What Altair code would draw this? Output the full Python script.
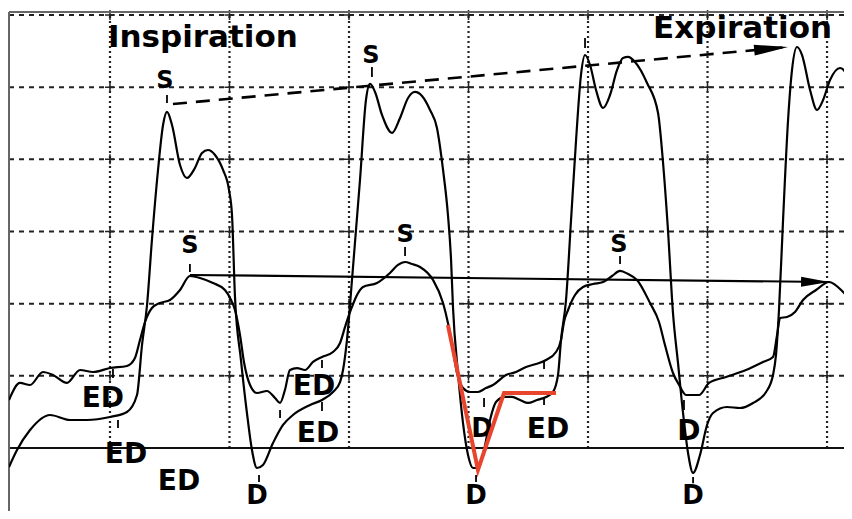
import altair as alt
import pandas as pd

# ---- data (time in grid units, pressure in grid units) ----
# Trace A: large-swing pressure trace
a_t = [0.155, 0.222, 0.331, 0.498, 0.665, 0.808, 1.000, 1.142, 1.226, 1.268, 1.310, 1.351, 1.402, 1.444,
       1.477, 1.519, 1.586, 1.644, 1.711, 1.770, 1.820, 1.879, 1.946, 1.996, 2.021, 2.046, 2.096, 2.146,
       2.188, 2.230, 2.280, 2.364, 2.448, 2.531, 2.674, 2.774, 2.866, 2.925, 2.950, 2.983, 3.025, 3.092,
       3.142, 3.176, 3.218, 3.276, 3.360, 3.427, 3.494, 3.552, 3.611, 3.678, 3.736, 3.787, 3.828, 3.854,
       3.870, 3.912, 3.954, 3.996, 4.038, 4.079, 4.130, 4.180, 4.230, 4.305, 4.364, 4.431, 4.498, 4.573,
       4.649, 4.707, 4.749, 4.774, 4.816, 4.858, 4.900, 4.941, 4.975, 5.017, 5.067, 5.126, 5.184, 5.243,
       5.293, 5.335, 5.393, 5.494, 5.586, 5.628, 5.669, 5.711, 5.753, 5.795, 5.837, 5.879, 5.937, 5.996,
       6.046, 6.163, 6.272, 6.381, 6.490, 6.548, 6.573, 6.598, 6.632, 6.674, 6.707, 6.749, 6.791, 6.858,
       6.916, 6.967, 7.025, 7.109, 7.176, 7.209]
a_p = [-0.263, -0.028, 0.249, 0.457, 0.388, 0.388, 0.430, 0.499, 0.734, 1.427, 1.981, 2.882, 3.852, 4.475,
       4.656, 4.475, 3.921, 3.741, 3.880, 4.088, 4.129, 4.060, 3.852, 3.575, 3.228, 2.092, 1.219, 0.485,
       -0.028, -0.277, -0.236, 0.069, 0.319, 0.457, 0.596, 0.665, 0.776, 0.914, 1.081, 1.496, 2.328, 3.713,
       4.822, 5.044, 4.933, 4.614, 4.365, 4.572, 4.850, 4.933, 4.877, 4.683, 4.434, 3.852, 3.228, 2.605,
       1.954, 1.039, 0.346, -0.097, -0.277, -0.277, -0.028, 0.388, 0.637, 0.707, 0.707, 0.665, 0.624, 0.665,
       0.707, 0.776, 1.012, 1.496, 2.051, 3.159, 4.268, 5.168, 5.445, 5.307, 4.960, 4.711, 4.891, 5.238,
       5.404, 5.418, 5.348, 5.057, 4.642, 3.949, 3.021, 1.871, 1.178, 0.485, -0.069, -0.346, -0.097, 0.319,
       0.485, 0.568, 0.554, 0.624, 0.776, 1.012, 1.289, 1.912, 3.159, 4.545, 5.238, 5.556, 5.445, 4.960,
       4.683, 4.822, 5.099, 5.265, 5.127, 4.960]

# Trace B: smaller-swing pressure trace
b_t = [0.155, 0.247, 0.331, 0.439, 0.523, 0.640, 0.749, 0.858, 1.000, 1.142, 1.209, 1.251, 1.293, 1.351,
       1.418, 1.502, 1.586, 1.669, 1.753, 1.862, 1.962, 2.013, 2.046, 2.088, 2.121, 2.172, 2.230, 2.314,
       2.381, 2.423, 2.464, 2.506, 2.565, 2.632, 2.699, 2.774, 2.866, 2.925, 2.967, 3.000, 3.025, 3.067,
       3.117, 3.234, 3.343, 3.410, 3.469, 3.527, 3.594, 3.703, 3.787, 3.828, 3.870, 3.904, 3.954, 4.013,
       4.079, 4.146, 4.205, 4.314, 4.397, 4.481, 4.565, 4.649, 4.732, 4.774, 4.799, 4.833, 4.891, 4.958,
       5.042, 5.126, 5.201, 5.268, 5.335, 5.410, 5.519, 5.594, 5.644, 5.711, 5.762, 5.820, 5.929, 6.013,
       6.155, 6.322, 6.464, 6.548, 6.582, 6.607, 6.665, 6.732, 6.799, 6.908, 7.017, 7.134, 7.209]
b_p = [0.665, 0.901, 0.873, 1.053, 1.012, 0.901, 1.081, 1.053, 1.108, 1.136, 1.247, 1.496, 1.746, 1.940,
       2.009, 2.051, 2.189, 2.383, 2.356, 2.286, 2.189, 2.051, 1.912, 1.566, 1.192, 0.873, 0.762, 0.790,
       0.693, 0.624, 0.804, 1.081, 1.108, 1.081, 1.192, 1.261, 1.330, 1.455, 1.677, 1.843, 1.954, 2.120,
       2.231, 2.286, 2.425, 2.536, 2.577, 2.549, 2.508, 2.328, 2.009, 1.732, 1.358, 1.039, 0.831, 0.776,
       0.776, 0.831, 0.873, 1.012, 1.053, 1.122, 1.164, 1.219, 1.330, 1.496, 1.746, 1.912, 2.120, 2.231,
       2.272, 2.300, 2.383, 2.453, 2.411, 2.328, 2.009, 1.746, 1.427, 1.039, 0.873, 0.734, 0.734, 0.901,
       0.984, 1.081, 1.192, 1.261, 1.566, 1.801, 1.815, 1.884, 2.051, 2.189, 2.300, 2.162, 2.023]

# highlighted red V (descent, nadir, rapid filling, plateau)
red_t = [3.828, 4.079, 4.297, 4.732]
red_p = [1.704, -0.305, 0.762, 0.762]

# trend arrows
dash_t = [1.527, 6.674]
dash_p = [4.766, 5.556]
solid_t = [1.669, 7.017]
solid_p = [2.397, 2.300]

# grid
grid_x = [1, 2, 3, 4, 5, 6, 7]
grid_y = [1, 2, 3, 4, 5, 6]

X_MIN, X_MAX = 0.155, 7.142
Y_MIN, Y_MAX = -0.873, 6.041

# labels
lab_text = ["S", "S", "S", "S", "S",
            "ED", "ED", "ED", "ED", "ED", "ED",
            "D", "D", "D", "D", "D"]
lab_t = [1.460, 1.669, 3.184, 3.469, 5.259,
         0.941, 1.134, 1.577, 2.707, 2.741, 4.665,
         2.230, 4.063, 4.113, 5.879, 5.845]
lab_p = [4.988, 2.702, 5.335, 2.854, 2.716,
         0.568, -0.208, -0.582, 0.734, 0.083, 0.139,
         -0.780, -0.780, 0.152, -0.780, 0.111]
lab_fs = [24, 24, 24, 24, 24,
          28, 28, 28, 28, 28, 28,
          26, 26, 26, 26, 28]

title_text = ["Inspiration", "Expiration"]
title_t = [0.983, 5.544]
title_p = [5.556, 5.681]

# small tick marks under/over labels
tick_t = [1.477, 1.669, 3.192, 3.469, 5.268, 4.975,
          1.025, 1.067, 2.774, 2.774, 4.632, 4.632,
          2.247, 2.423, 4.063, 4.130, 5.879, 5.803]
tick_p1 = [4.891, 2.549, 5.279, 2.785, 2.660, 5.681,
           1.095, 0.388, 1.219, 0.637, 1.192, 0.707,
           -0.374, 0.527, -0.374, 0.693, -0.402, 0.665]
tick_p2 = [4.780, 2.439, 5.141, 2.660, 2.549, 5.542,
           0.970, 0.277, 1.108, 0.513, 1.095, 0.596,
           -0.470, 0.416, -0.470, 0.568, -0.490, 0.527]

# ---- chart ----
xs = alt.Scale(domain=[X_MIN, X_MAX], nice=False, zero=False)
ys = alt.Scale(domain=[Y_MIN, Y_MAX], nice=False, zero=False)


def X(f="t"):
    return alt.X(f"{f}:Q", scale=xs, axis=None)


def Y(f="p"):
    return alt.Y(f"{f}:Q", scale=ys, axis=None)


GRID = "#222222"

vgrid = alt.Chart(pd.DataFrame({"t": grid_x, "p": [0] * 7, "p2": [Y_MAX] * 7})).mark_rule(
    color=GRID, strokeWidth=2.2, strokeDash=[2, 3]
).encode(x=X(), y=Y(), y2="p2:Q")

hgrid = alt.Chart(pd.DataFrame({"p": grid_y, "t": [X_MIN] * 6, "t2": [X_MAX] * 6})).mark_rule(
    color=GRID, strokeWidth=2, strokeDash=[5, 5]
).encode(y=Y(), x=X(), x2="t2:Q")

cross_rows = [{"t": gx, "p": gy} for gx in grid_x for gy in grid_y]
crosses = alt.Chart(pd.DataFrame(cross_rows)).mark_point(
    shape="M-1,0L1,0M0,-1L0,1", size=100, filled=False, color=GRID, strokeWidth=1.5, opacity=1
).encode(x=X(), y=Y())

baseline = alt.Chart(pd.DataFrame({"p": [0], "t": [X_MIN], "t2": [X_MAX]})).mark_rule(
    color="#111111", strokeWidth=1.8
).encode(y=Y(), x=X(), x2="t2:Q")

frame_left = alt.Chart(pd.DataFrame({"t": [X_MIN], "p": [Y_MIN], "p2": [Y_MAX]})).mark_rule(
    color="#666666", strokeWidth=2
).encode(x=X(), y=Y(), y2="p2:Q")
frame_top = alt.Chart(pd.DataFrame({"p": [Y_MAX], "t": [X_MIN], "t2": [X_MAX]})).mark_rule(
    color="#666666", strokeWidth=2
).encode(y=Y(), x=X(), x2="t2:Q")

trace_a = alt.Chart(pd.DataFrame({"t": a_t, "p": a_p})).mark_line(
    color="black", strokeWidth=2.2, interpolate="monotone", clip=True
).encode(x=X(), y=Y())
trace_b = alt.Chart(pd.DataFrame({"t": b_t, "p": b_p})).mark_line(
    color="black", strokeWidth=2.2, interpolate="monotone", clip=True
).encode(x=X(), y=Y())

dash_line = alt.Chart(pd.DataFrame({"t": dash_t, "p": dash_p})).mark_line(
    color="black", strokeWidth=2.6, strokeDash=[14, 9]
).encode(x=X(), y=Y())
dash_head = alt.Chart(pd.DataFrame({"t": [dash_t[1]], "p": [dash_p[1]]})).mark_point(
    shape="M0,0L-2,-0.32L-2,0.32Z", size=1156, angle=354.7, filled=True, color="black", opacity=1
).encode(x=X(), y=Y())

solid_line = alt.Chart(pd.DataFrame({"t": solid_t, "p": solid_p})).mark_line(
    color="black", strokeWidth=2.2
).encode(x=X(), y=Y())
solid_head = alt.Chart(pd.DataFrame({"t": [solid_t[1]], "p": [solid_p[1]]})).mark_point(
    shape="M0,0L-2,-0.36L-2,0.36Z", size=784, angle=0.6, filled=True, color="black", opacity=1
).encode(x=X(), y=Y())

ticks = alt.Chart(pd.DataFrame({"t": tick_t, "p": tick_p1, "p2": tick_p2})).mark_rule(
    color="black", strokeWidth=1.8
).encode(x=X(), y=Y(), y2="p2:Q")

labels_df = pd.DataFrame({"label": lab_text, "t": lab_t, "p": lab_p, "fs": lab_fs})
labels = alt.Chart(labels_df).mark_text(
    font="DejaVu Sans", fontWeight="bold", baseline="alphabetic", align="center", color="black"
).encode(x=X(), y=Y(), text="label:N", size=alt.Size("fs:Q", scale=None))

titles = alt.Chart(pd.DataFrame({"label": title_text, "t": title_t, "p": title_p})).mark_text(
    font="DejaVu Sans", fontWeight="bold", baseline="alphabetic", align="left", color="black",
    fontSize=31
).encode(x=X(), y=Y(), text="label:N")

red = alt.Chart(pd.DataFrame({"t": red_t, "p": red_p})).mark_line(
    color="#e8452c", strokeWidth=4, strokeJoin="miter"
).encode(x=X(), y=Y())

chart = alt.layer(
    vgrid, hgrid, crosses, baseline, frame_left, frame_top,
    trace_a, trace_b, dash_line, dash_head, solid_line, solid_head,
    ticks, labels, titles, red
).properties(
    width=835, height=499,
    padding={"left": 1, "top": 4, "right": 0, "bottom": 0},
    autosize="none", background="white"
).configure_view(stroke=None)

chart.save("out.html", embed_options={"renderer": "svg", "actions": False})
